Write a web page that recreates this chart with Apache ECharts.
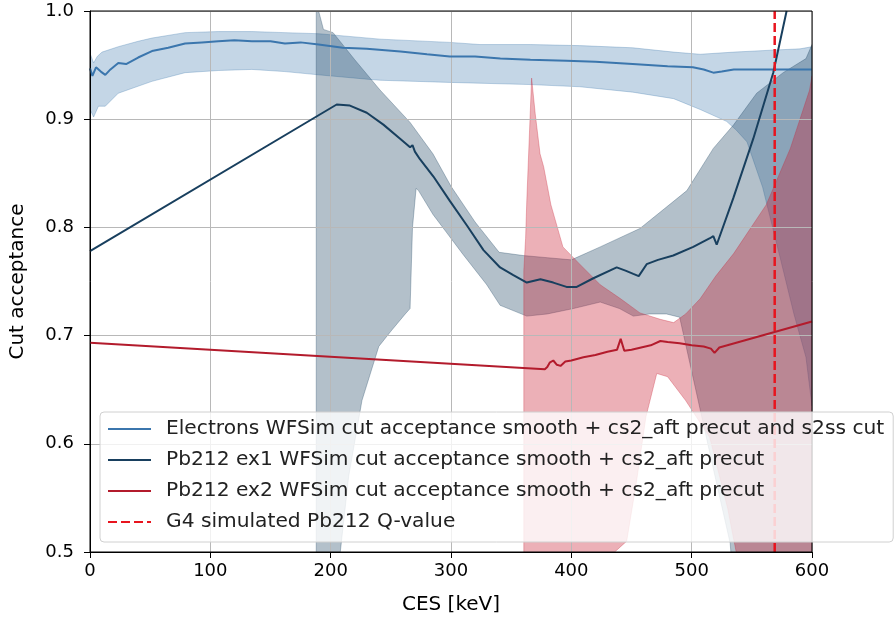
<!DOCTYPE html>
<html>
<head>
<meta charset="utf-8">
<script src="https://cdn.jsdelivr.net/npm/echarts@6/dist/echarts.min.js"></script>
<style>
html,body{margin:0;padding:0;background:#fff;}
#chart{width:894px;height:617px;}
</style>
</head>
<body>
<div id="chart"></div>
<script>
// ---------- data ----------
const xTicks = [0, 100, 200, 300, 400, 500, 600];
const yTicks = [0.5, 0.6, 0.7, 0.8, 0.9, 1.0];

// Electrons WFSim
const elecX = [0,2,5,9,12.7,17,23.5,30,40,51.5,65,79,93,106.6,120,134.5,150,162,175,190,210,230,258,280,299,320,341,366,396,420,451,480,501,510,518,525,535,560,600];
const elecY = [0.947,0.940,0.948,0.944,0.941,0.946,0.952,0.951,0.957,0.963,0.966,0.970,0.971,0.972,0.973,0.972,0.972,0.970,0.971,0.969,0.966,0.965,0.9625,0.960,0.958,0.958,0.956,0.955,0.954,0.953,0.951,0.949,0.948,0.946,0.943,0.944,0.946,0.946,0.946];
const elecUpX = [0,3,6,10,23.5,40,51.5,79,106.6,134.5,162,190,241,299,324,366,407,451,485,507,535,570,590,600];
const elecUpY = [0.961,0.952,0.958,0.962,0.967,0.972,0.975,0.980,0.981,0.981,0.980,0.979,0.974,0.971,0.969,0.969,0.968,0.966,0.962,0.960,0.962,0.964,0.965,0.967];
const elecLoX = [0,3,7,12.7,23.5,51.5,79,106.6,134.5,162,190,230,241,299,366,407,451,485,507,529,537,546,559,574,585,595,600];
const elecLoY = [0.909,0.902,0.912,0.912,0.924,0.935,0.943,0.945,0.946,0.944,0.941,0.937,0.936,0.934,0.932,0.930,0.925,0.919,0.909,0.898,0.890,0.879,0.837,0.770,0.720,0.680,0.635];

// Pb212 ex1
const ex1X = [0,205,216,230,243.8,257.7,266,268,270,274.2,285.4,299.3,313.1,327,340.8,351.8,363,374.3,385,396,404.5,418.3,437.7,445,451.5,456,462.6,472,484.7,501.3,515.2,518,520.8,534.6,551.2,567.8,578.9];
const ex1Y = [0.778,0.9136,0.9126,0.906,0.895,0.882,0.874,0.876,0.870,0.863,0.847,0.824,0.802,0.779,0.763,0.756,0.749,0.752,0.749,0.745,0.745,0.753,0.763,0.760,0.757,0.755,0.766,0.770,0.774,0.782,0.790,0.792,0.784,0.827,0.882,0.943,1.0];
const ex1UpX = [188,190,194,202,220,241,266,285,300,320,340,360,380,400,424,457,496,518,535,554,576,595,600];
const ex1UpY = [1.05,1.0,0.983,0.98,0.955,0.927,0.897,0.868,0.838,0.805,0.777,0.774,0.772,0.770,0.782,0.799,0.834,0.873,0.895,0.924,0.943,0.956,0.969];
const ex1LoX = [188,204,208,215,226,240,250,262,266,268,271,273,285,296.5,310,329.7,340.8,363,380,401.7,424,440,451.5,465,479,490,500,510,520,532,536,600];
const ex1LoY = [0.40,0.45,0.50,0.57,0.64,0.69,0.704,0.72,0.725,0.80,0.836,0.834,0.812,0.795,0.775,0.747,0.728,0.718,0.72,0.725,0.731,0.725,0.718,0.72,0.72,0.717,0.667,0.617,0.567,0.508,0.45,0.40];

// Pb212 ex2
const ex2X = [0,378,380,382,385,388,391,395,400,410,420,430,438,441,444,450,458,466,474,480,490,500,510,516,519,523,600];
const ex2Y = [0.6935,0.669,0.671,0.675,0.677,0.673,0.672,0.676,0.677,0.680,0.682,0.685,0.687,0.697,0.686,0.687,0.689,0.691,0.695,0.694,0.693,0.691,0.690,0.688,0.684,0.689,0.713];
const ex2UpX = [360.5,362,363,367,370,374,377,383,393,407,424,441,457,474,485,495,507,520,535,562,582,598,600];
const ex2UpY = [0.76,0.79,0.825,0.938,0.905,0.868,0.856,0.821,0.782,0.766,0.747,0.734,0.721,0.715,0.712,0.72,0.734,0.755,0.776,0.821,0.873,0.927,0.94];
const ex2LoX = [360.5,430,436,446,454,462,471,480,495,515,530,537,545,600];
const ex2LoY = [0.40,0.45,0.50,0.51,0.564,0.625,0.665,0.662,0.64,0.606,0.54,0.50,0.45,0.40];

// G4 simulated Q-value
const qValue = 569;
const qY = [0.5, 1.0];

const names = [
  'Electrons WFSim cut acceptance smooth + cs2_aft precut and s2ss cut',
  'Pb212 ex1 WFSim cut acceptance smooth + cs2_aft precut',
  'Pb212 ex2 WFSim cut acceptance smooth + cs2_aft precut',
  'G4 simulated Pb212 Q-value'
];
// ---------------------------------------------------

const zip = (xs, ys) => xs.map((x, i) => [x, ys[i]]);
const FONT = 'DejaVu Sans';

function band(id, upX, upY, loX, loY, fill, stroke) {
  return {
    type: 'custom', id: id, coordinateSystem: 'cartesian2d', silent: true, z: 1, clip: true,
    data: [[upX[0], upY[0]]],
    renderItem: function (params, api) {
      const pts = [];
      for (let i = 0; i < upX.length; i++) pts.push(api.coord([upX[i], upY[i]]));
      for (let i = loX.length - 1; i >= 0; i--) pts.push(api.coord([loX[i], loY[i]]));
      const cs = params.coordSys;
      return {
        type: 'polygon',
        shape: { points: pts },
        style: { fill: fill, stroke: stroke, lineWidth: 1 },
        clipPath: { type: 'rect', shape: { x: cs.x, y: cs.y, width: cs.width, height: cs.height } }
      };
    }
  };
}

function line(name, data, color, width, type) {
  return {
    type: 'line', name: name, data: data, z: 2, clip: true,
    symbol: 'none', showSymbol: false, animation: false,
    lineStyle: { color: color, width: width, type: type || 'solid' },
    itemStyle: { color: 'rgba(0,0,0,0)', borderColor: 'rgba(0,0,0,0)' }
  };
}

const chart = echarts.init(document.getElementById('chart'), null, { renderer: 'canvas' });
chart.setOption({
  animation: false,
  backgroundColor: '#fff',
  textStyle: { fontFamily: FONT },
  grid: { left: 90, right: 82, top: 11, bottom: 65, containLabel: false, outerBoundsMode: 'none',
          show: true, borderColor: '#000', borderWidth: 1, backgroundColor: 'transparent', z: 3 },
  xAxis: {
    type: 'value', min: xTicks[0], max: xTicks[xTicks.length - 1], interval: 100, z: 1.5,
    name: 'CES [keV]', nameLocation: 'middle', nameGap: 43,
    nameTextStyle: { fontSize: 20, color: '#000', fontFamily: FONT },
    axisLine: { show: true, lineStyle: { color: '#000', width: 1 } },
    axisTick: { show: true, inside: false, length: 6, lineStyle: { color: '#000' } },
    axisLabel: { fontSize: 18, color: '#000', margin: 10, fontFamily: FONT },
    splitLine: { show: true, lineStyle: { color: '#b8b8b8', width: 1 } }
  },
  yAxis: {
    type: 'value', min: yTicks[0], max: yTicks[yTicks.length - 1], interval: 0.1, z: 1.5,
    name: 'Cut acceptance', nameLocation: 'middle', nameGap: 62,
    nameTextStyle: { fontSize: 20, color: '#000', fontFamily: FONT },
    axisLine: { show: true, lineStyle: { color: '#000', width: 1 } },
    axisTick: { show: true, inside: false, length: 6, lineStyle: { color: '#000' } },
    axisLabel: { fontSize: 18, color: '#000', margin: 16, fontFamily: FONT, formatter: v => v.toFixed(1) },
    splitLine: { show: true, lineStyle: { color: '#b8b8b8', width: 1 } }
  },
  legend: {
    show: true, orient: 'vertical', left: 100, top: 412, z: 20,
    data: names,
    itemWidth: 43, itemHeight: 16, itemGap: 11,
    padding: [7, 9, 10, 7],
    backgroundColor: 'rgba(255,255,255,0.8)',
    borderColor: '#d0d0d0', borderWidth: 1, borderRadius: 4,
    textStyle: { fontSize: 20.2, color: '#222', fontFamily: FONT, lineHeight: 20, padding: [0, 0, 0, 10] },
    selectedMode: false
  },
  series: [
    band('bandElec', elecUpX, elecUpY, elecLoX, elecLoY, 'rgba(59,118,173,0.3)', 'rgba(59,118,173,0.3)'),
    band('bandEx1', ex1UpX, ex1UpY, ex1LoX, ex1LoY, 'rgba(24,63,94,0.33)', 'rgba(24,63,94,0.3)'),
    band('bandEx2', ex2UpX, ex2UpY, ex2LoX, ex2LoY, 'rgba(200,30,50,0.35)', 'rgba(200,30,50,0.3)'),
    line(names[0], zip(elecX, elecY), '#3b76ad', 2),
    line(names[1], zip(ex1X, ex1Y), '#183f5e', 2),
    line(names[2], zip(ex2X, ex2Y), '#b31b2c', 2),
    line(names[3], qY.map(y => [qValue, y]), '#e8141e', 2.5, [9, 4])
  ]
});
</script>
</body>
</html>
